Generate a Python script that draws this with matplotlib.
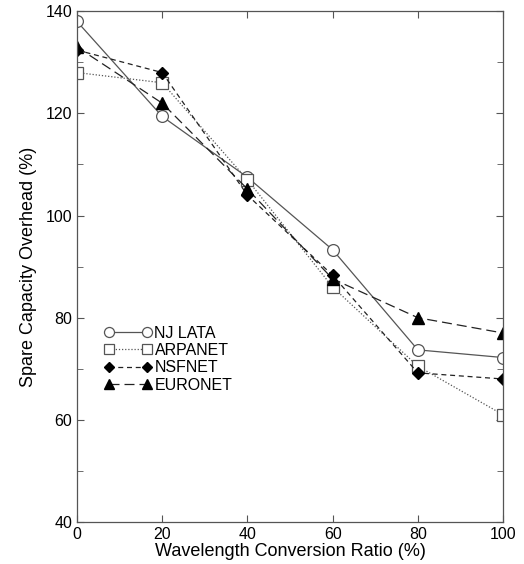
import numpy as np
import matplotlib
matplotlib.use('Agg')
import matplotlib.pyplot as plt
from matplotlib.ticker import MultipleLocator

plt.rcParams['font.family'] = ['Liberation Sans', 'DejaVu Sans']

ratio = [0, 20, 40, 60, 80, 100]
nj_lata = [138, 119.4, 107.5, 93.3, 73.7, 72.2]
arpanet = [128, 126, 107, 86, 70.5, 61]
nsfnet = [132.4, 128, 104, 88.3, 69.2, 68]
euronet = [133, 122, 105.2, 87.6, 80, 77]

fig = plt.figure(figsize=(5.24, 5.64), dpi=100)
ax = fig.add_axes([0.147, 0.0745, 0.813, 0.9055])

ax.plot(ratio, nj_lata, color='#555555', lw=0.9, ls='-', marker='o', ms=8.5,
        mfc='white', mec='#555555', mew=0.9, label='NJ LATA')
ax.plot(ratio, arpanet, color='#555555', lw=0.9, ls=(0, (1, 1.5)), marker='s', ms=8,
        mfc='white', mec='#555555', mew=0.9, label='ARPANET')
ax.plot(ratio, nsfnet, color='#222222', lw=0.9, ls=(0, (4, 3)), marker='D', ms=6.5,
        mfc='black', mec='black', label='NSFNET')
ax.plot(ratio, euronet, color='#222222', lw=0.9, ls=(0, (8, 4)), marker='^', ms=8.5,
        mfc='black', mec='black', label='EURONET')

ax.set_xlim(0, 100)
ax.set_ylim(40, 140)
ax.xaxis.set_major_locator(MultipleLocator(20))
ax.yaxis.set_major_locator(MultipleLocator(20))
ax.yaxis.set_minor_locator(MultipleLocator(10))
ax.tick_params(which='both', direction='in', top=True, right=True, labelsize=11.5, color='#555555')
ax.tick_params(which='major', length=5)
ax.tick_params(which='minor', length=4)
for s in ax.spines.values():
    s.set_color('#555555')
    s.set_linewidth(0.9)

ax.set_xlabel('Wavelength Conversion Ratio (%)', fontsize=13, labelpad=1)
ax.set_ylabel('Spare Capacity Overhead (%)', fontsize=13, labelpad=6)

ax.legend(loc='upper left', bbox_to_anchor=(0.045, 0.40), frameon=False, fontsize=11.5,
          numpoints=2, markerscale=0.85, handlelength=3.0, handletextpad=0.15,
          labelspacing=0.15, borderpad=0)

fig.savefig('out.png', dpi=100)
